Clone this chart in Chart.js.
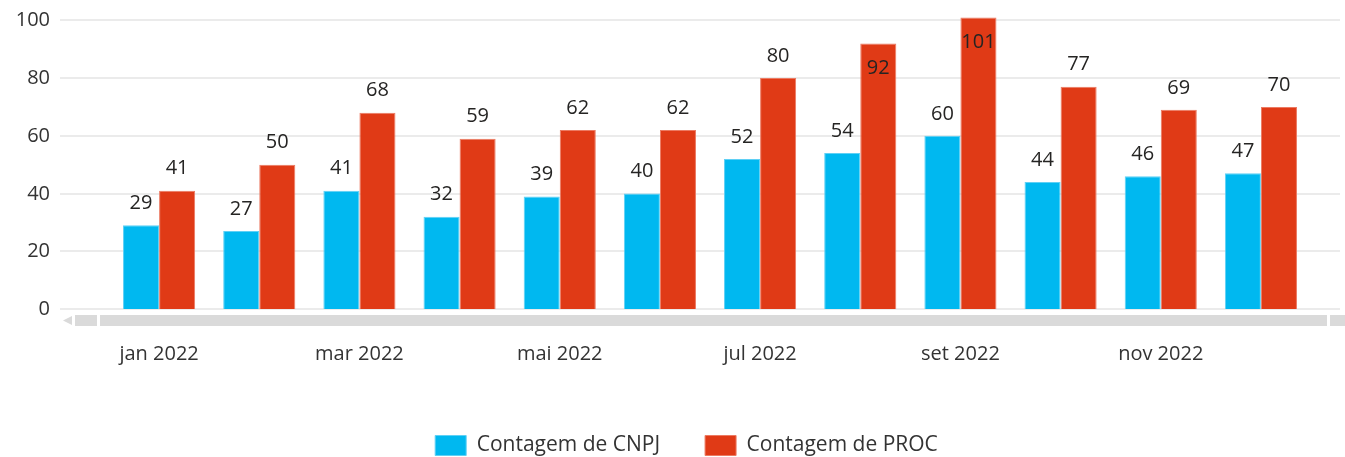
<!DOCTYPE html>
<html>
<head>
<meta charset="utf-8">
<script src="https://cdn.jsdelivr.net/npm/chart.js@4.4.0/dist/chart.umd.min.js"></script>
<style>
  html, body { margin: 0; padding: 0; background: #fff; overflow: hidden; }
  #wrap { width: 1345px; height: 466px; position: relative; }
</style>
</head>
<body>
<div id="wrap"><canvas id="contagem-chart"></canvas></div>
<script>
const months = ['jan 2022', 'fev 2022', 'mar 2022', 'abr 2022', 'mai 2022', 'jun 2022',
                'jul 2022', 'ago 2022', 'set 2022', 'out 2022', 'nov 2022', 'dez 2022'];
const cnpjCounts = [29, 27, 41, 32, 39, 40, 52, 54, 60, 44, 46, 47];
const procCounts = [41, 50, 68, 59, 62, 62, 80, 92, 101, 77, 69, 70];
const yTicks = [0, 20, 40, 60, 80, 100];

const FONT = '"Open Sans", "Noto Sans", sans-serif';

// gridlines + y labels, drawn wider than the plot area (scrolling visual)
const wideGrid = {
  id: 'wideGrid',
  beforeDatasetsDraw(chart) {
    const ctx = chart.ctx;
    const y = chart.scales.y;
    ctx.save();
    ctx.strokeStyle = '#ebebeb';
    ctx.lineWidth = 2;
    ctx.font = '20px ' + FONT;
    ctx.fillStyle = '#333';
    ctx.textAlign = 'right';
    ctx.textBaseline = 'middle';
    yTicks.forEach(v => {
      const py = Math.round(y.getPixelForValue(v));
      ctx.beginPath();
      ctx.moveTo(60, py);
      ctx.lineTo(1340, py);
      ctx.stroke();
      ctx.fillText(String(v), 50, py);
    });
    ctx.restore();
  }
};

// value labels above bars (inside the top when there is no room)
const barLabels = {
  id: 'barLabels',
  afterDatasetsDraw(chart) {
    const ctx = chart.ctx;
    const top = chart.chartArea.top;
    ctx.save();
    ctx.font = '20px ' + FONT;
    ctx.fillStyle = '#252423';
    ctx.textAlign = 'center';
    ctx.textBaseline = 'middle';
    chart.data.datasets.forEach((ds, di) => {
      const meta = chart.getDatasetMeta(di);
      meta.data.forEach((bar, i) => {
        let cy = bar.y - 22;
        if (cy - 10 < top) cy = bar.y + 25;
        ctx.fillText(String(ds.data[i]), bar.x, cy);
      });
    });
    ctx.restore();
  }
};

// horizontal scrollbar under the axis
const scrollBar = {
  id: 'scrollBar',
  afterDraw(chart) {
    const ctx = chart.ctx;
    const y0 = 315, h = 11;
    ctx.save();
    ctx.fillStyle = '#dadada';
    ctx.beginPath();
    ctx.moveTo(63, y0 + h / 2);
    ctx.lineTo(72, y0 + 1);
    ctx.lineTo(72, y0 + h - 1);
    ctx.closePath();
    ctx.fill();
    ctx.fillRect(75, y0, 22, h);
    ctx.fillRect(100, y0, 1227, h);
    ctx.fillRect(1330, y0, 15, h);
    ctx.restore();
  }
};

new Chart(document.getElementById('contagem-chart'), {
  type: 'bar',
  data: {
    labels: months,
    datasets: [{
      label: 'Contagem de CNPJ',
      data: cnpjCounts,
      backgroundColor: '#00b8f0',
      borderColor: '#5fd0f5',
      borderWidth: 1,
      categoryPercentage: 0.72,
      barPercentage: 1.0
    }, {
      label: 'Contagem de PROC',
      data: procCounts,
      backgroundColor: '#e03a16',
      borderColor: '#ec7a62',
      borderWidth: 1,
      categoryPercentage: 0.72,
      barPercentage: 1.0
    }]
  },
  options: {
    responsive: true,
    maintainAspectRatio: false,
    animation: false,
    layout: { padding: { top: 16, right: 34, left: 62, bottom: 0 } },
    plugins: {
      tooltip: { enabled: false },
      legend: {
        position: 'bottom',
        labels: {
          font: { family: FONT, size: 21 },
          color: '#333',
          boxWidth: 31,
          boxHeight: 20,
          padding: 45
        }
      }
    },
    scales: {
      x: {
        grid: { display: false, drawTicks: false },
        border: { display: false },
        ticks: {
          autoSkip: false,
          maxRotation: 0,
          padding: 33,
          color: '#333',
          font: { family: FONT, size: 20 },
          callback: function (value, index) {
            return index % 2 === 0 ? this.getLabelForValue(value) : '';
          }
        },
        afterFit(scale) {
          scale.height = 81;
          scale.paddingLeft = 0;
          scale.paddingRight = 0;
        }
      },
      y: {
        min: 0,
        max: 101.5,
        grid: { display: false, drawTicks: false },
        border: { display: false },
        ticks: { display: false, stepSize: 20 },
        afterBuildTicks(scale) {
          scale.ticks = yTicks.map(v => ({ value: v }));
        },
        afterFit(scale) {
          scale.width = 47;
          scale.paddingTop = 0;
          scale.paddingBottom = 0;
        }
      }
    }
  },
  plugins: [wideGrid, barLabels, scrollBar]
});
</script>
</body>
</html>
